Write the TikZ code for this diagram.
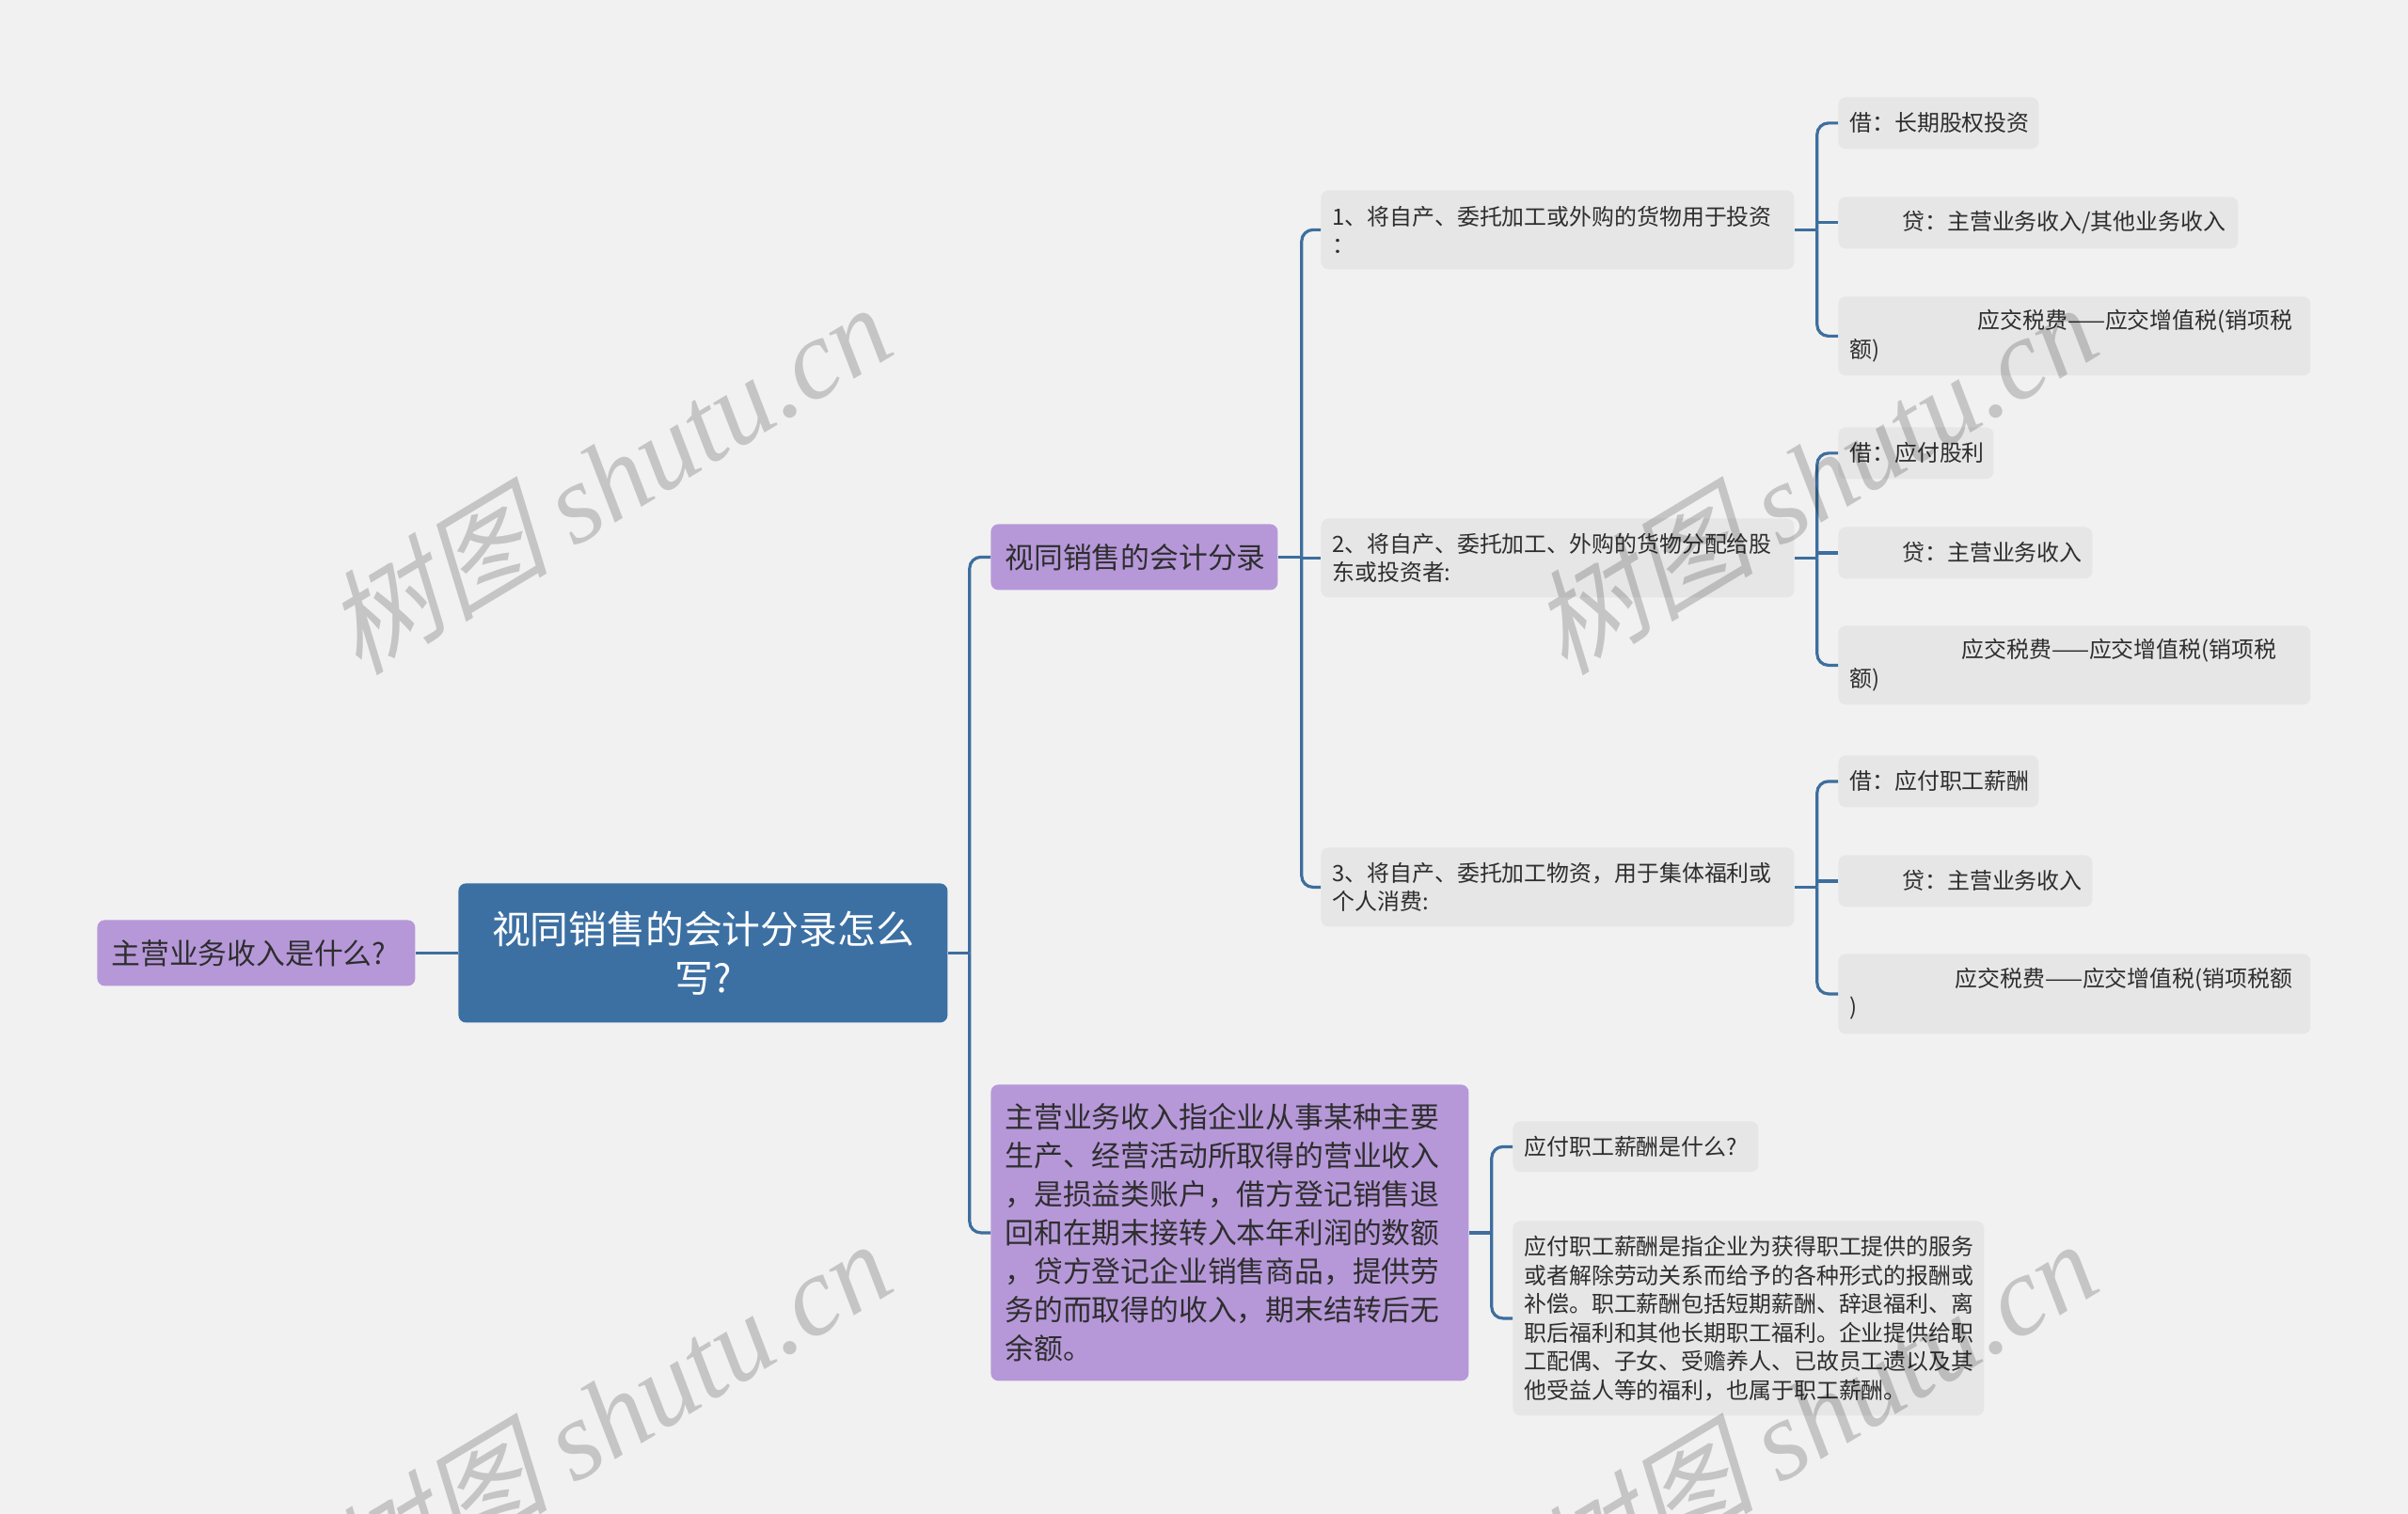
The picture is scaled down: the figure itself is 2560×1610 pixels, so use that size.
\documentclass[tikz,border=0pt]{standalone}
\usepackage{fontspec}
\setmainfont{Noto Sans CJK SC}
\newfontfamily\wmcjk[FakeSlant=0.25]{Noto Sans CJK SC}
\newfontfamily\wmlat{Liberation Serif}
\definecolor{bgc}{HTML}{F1F1F1}
\definecolor{boxg}{HTML}{E6E6E6}
\definecolor{purp}{HTML}{B698D9}
\definecolor{rootb}{HTML}{3C70A3}
\definecolor{linec}{HTML}{3D6E9E}
\definecolor{txt}{HTML}{2E2E2E}
\tikzset{
  base/.style={rounded corners=4pt, inner ysep=0pt, anchor=north west, align=left},
  gbox/.style={base, fill=boxg, text=txt, inner xsep=6pt, minimum height=27.5pt, font=\fontsize{11.95pt}{15.25pt}\selectfont},
  pbox/.style={base, fill=purp, text=txt, inner xsep=7.5pt, minimum height=35pt, font=\fontsize{15.4pt}{20.5pt}\selectfont},
  rbox/.style={base, fill=rootb, text=white, align=center, inner xsep=10pt, font=\fontsize{20.4pt}{26pt}\selectfont},
  conn/.style={draw=linec, line width=1.6pt},
  curve/.style={conn, rounded corners=6pt},
  wm/.style={text=black, text opacity=0.18, rotate=31, anchor=center, font=\fontsize{60pt}{60pt}\selectfont}
}
\newcommand{\wmtext}{{\wmcjk 树图} {\wmlat\itshape shutu.cn}}
\begin{document}
\begin{tikzpicture}[x=0.5pt,y=-0.5pt]
\fill[bgc] (0,0) rectangle (2560,1610);
\useasboundingbox (0,0) rectangle (2560,1610);

% root and left
\node[rbox, text width=240pt, minimum height=74pt] (root) at (487,939) {视同销售的会计分录怎么\\写?};
\node[pbox, text width=154pt] (left) at (103,978) {主营业务收入是什么?};

% level 1
\node[pbox, text width=137.5pt] (l1a) at (1053,557) {视同销售的会计分录};
\node[pbox, text width=239pt, minimum height=157.5pt] (l1b) at (1053,1153) {主营业务收入指企业从事某种主要\\生产、经营活动所取得的营业收入\\，是损益类账户，借方登记销售退\\回和在期末接转入本年利润的数额\\，贷方登记企业销售商品，提供劳\\务的而取得的收入，期末结转后无\\余额。};

% level 2
\node[gbox, text width=239.5pt, minimum height=42pt] (l2a) at (1404,202) {1、将自产、委托加工或外购的货物用于投资\\：};
\node[gbox, text width=239.5pt, minimum height=42pt] (l2b) at (1404,551) {2、将自产、委托加工、外购的货物分配给股\\东或投资者:};
\node[gbox, text width=239.5pt, minimum height=42pt] (l2c) at (1404,901) {3、将自产、委托加工物资，用于集体福利或\\个人消费:};

% level 3 group 1
\node[gbox, text width=94.5pt] (g1a) at (1954,103) {借：长期股权投资};
\node[gbox, text width=200.5pt] (g1b) at (1954,209) {\hspace*{28pt}贷：主营业务收入/其他业务收入};
\node[gbox, text width=239pt, minimum height=42pt] (g1c) at (1954,315) {\hspace*{68pt}应交税费——应交增值税(销项税\\额)};
% group 2
\node[gbox, text width=70.5pt] (g2a) at (1954,454) {借：应付股利};
\node[gbox, text width=123pt] (g2b) at (1954,560) {\hspace*{28pt}贷：主营业务收入};
\node[gbox, text width=239pt, minimum height=42pt] (g2c) at (1954,665) {\hspace*{59.5pt}应交税费——应交增值税(销项税\\额)};
% group 3
\node[gbox, text width=94.5pt] (g3a) at (1954,803) {借：应付职工薪酬};
\node[gbox, text width=123pt] (g3b) at (1954,909) {\hspace*{28pt}贷：主营业务收入};
\node[gbox, text width=239pt, minimum height=42.5pt] (g3c) at (1954,1014) {\hspace*{56pt}应交税费——应交增值税(销项税额\\)};

% children of big purple
\node[gbox, text width=118.5pt, minimum height=27pt] (q) at (1608,1192) {应付职工薪酬是什么?};
\node[gbox, text width=238.5pt, minimum height=103.5pt] (long) at (1608,1298) {应付职工薪酬是指企业为获得职工提供的服务\\或者解除劳动关系而给予的各种形式的报酬或\\补偿。职工薪酬包括短期薪酬、辞退福利、离\\职后福利和其他长期职工福利。企业提供给职\\工配偶、子女、受赡养人、已故员工遗以及其\\他受益人等的福利，也属于职工薪酬。};

% junctions
\coordinate (j0) at ([xshift=11.5pt]root.east);
\coordinate (j1) at ([xshift=12.5pt]l1a.east);
\coordinate (j2a) at ([xshift=12pt]l2a.east);
\coordinate (j2b) at ([xshift=12pt]l2b.east);
\coordinate (j2c) at ([xshift=12pt]l2c.east);
\coordinate (j3) at ([xshift=12pt]l1b.east);

% connectors
\draw[conn] (left.east) -- (root.west);
\draw[conn] (root.east) -- (j0);
\draw[curve] (j0) |- (l1a.west);
\draw[curve] (j0) |- (l1b.west);

\draw[conn] (l1a.east) -- (j1);
\draw[curve] (j1) |- (l2a.west);
\draw[conn] (j1 |- l2b.west) -- (l2b.west);
\draw[curve] (j1) |- (l2c.west);

\draw[conn] (l2a.east) -- (j2a);
\draw[curve] (j2a) |- (g1a.west);
\draw[conn] (j2a |- g1b.west) -- (g1b.west);
\draw[curve] (j2a) |- (g1c.west);

\draw[conn] (l2b.east) -- (j2b);
\draw[curve] (j2b) |- (g2a.west);
\draw[conn] (j2b |- g2b.west) -- (g2b.west);
\draw[curve] (j2b) |- (g2c.west);

\draw[conn] (l2c.east) -- (j2c);
\draw[curve] (j2c) |- (g3a.west);
\draw[conn] (j2c |- g3b.west) -- (g3b.west);
\draw[curve] (j2c) |- (g3c.west);

\draw[conn] (l1b.east) -- (j3);
\draw[curve] (j3) |- (q.west);
\draw[curve] (j3) |- (long.west);

% watermarks
\node[wm] (wm1) at (645,508) {\wmtext};
\node[wm] (wm2) at (1927,508) {\wmtext};
\node[wm] (wm3) at (645,1504) {\wmtext};
\node[wm] (wm4) at (1927,1504) {\wmtext};
\end{tikzpicture}
\end{document}
